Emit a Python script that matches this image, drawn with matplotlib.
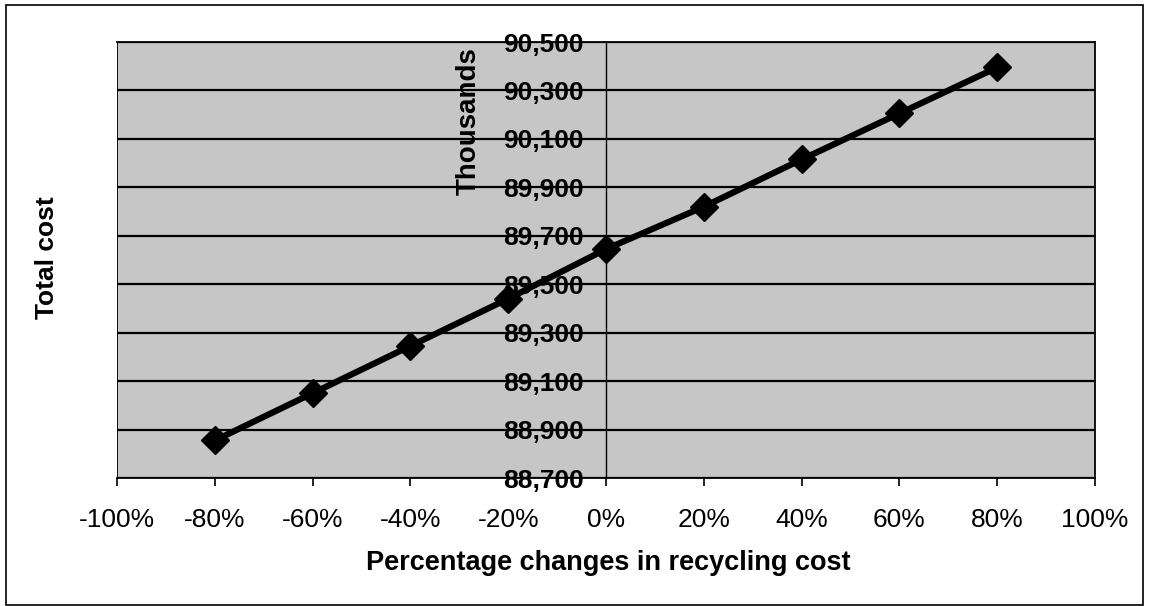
import matplotlib.pyplot as plt
from matplotlib.ticker import FuncFormatter, FixedLocator
from matplotlib.patches import Rectangle

plt.rcParams['font.family'] = ['Liberation Sans', 'DejaVu Sans']

# percentage change in recycling cost vs total cost (thousands)
pct_change = [-80, -60, -40, -20, 0, 20, 40, 60, 80]
total_cost = [88855, 89050, 89245, 89440, 89645, 89820, 90015, 90205, 90395]
x_ticks = [-100, -80, -60, -40, -20, 0, 20, 40, 60, 80, 100]
y_ticks = [88700, 88900, 89100, 89300, 89500, 89700, 89900, 90100, 90300, 90500]

fig = plt.figure(figsize=(11.5, 6.06), dpi=100)
fig.patches.append(Rectangle((6 / 1150, 1 / 606), 1137 / 1150, 600 / 606,
                             transform=fig.transFigure, fill=False,
                             edgecolor='black', lw=1.2))

ax = fig.add_axes([117 / 1150, 1 - 478 / 606, 978 / 1150, 436 / 606])
ax.set_facecolor('#c6c6c6')

ax.plot(pct_change, total_cost, color='black', lw=4.5, marker='D',
        markersize=14, zorder=5)

ax.set_xlim(-100, 100)
ax.set_ylim(88700, 90500)
ax.xaxis.set_major_locator(FixedLocator(x_ticks))
ax.yaxis.set_major_locator(FixedLocator(y_ticks))
ax.xaxis.set_major_formatter(FuncFormatter(lambda v, p: '%d%%' % v))
ax.yaxis.set_major_formatter(FuncFormatter(lambda v, p: '{:,.0f}'.format(v)))

ax.grid(axis='y', color='black', lw=1.6)
ax.set_axisbelow(True)

for s in ax.spines.values():
    s.set_color('black')
    s.set_linewidth(1.3)
ax.spines['left'].set_position(('data', 0))
ax.spines['left'].set_linewidth(1.0)

ax.tick_params(axis='x', direction='out', length=6, width=1.2, pad=15.5,
               labelsize=19)
ax.tick_params(axis='y', length=0, pad=16, labelsize=19)
for lab in ax.get_yticklabels():
    lab.set_fontweight('bold')

# frame line on the left edge (the y spine sits at x=0)
ax.axvline(-100, color='black', lw=1.3)

fig.text(608 / 1150, 1 - 563 / 606, 'Percentage changes in recycling cost',
         fontsize=19.5, fontweight='bold', ha='center', va='center')
fig.text(47 / 1150, 1 - 258 / 606, 'Total cost', rotation=90, fontsize=19,
         fontweight='bold', ha='center', va='center')
fig.text(469 / 1150, 1 - 121 / 606, 'Thousands', rotation=90, fontsize=20,
         fontweight='bold', ha='center', va='center')

plt.savefig('out.png', dpi=100)
